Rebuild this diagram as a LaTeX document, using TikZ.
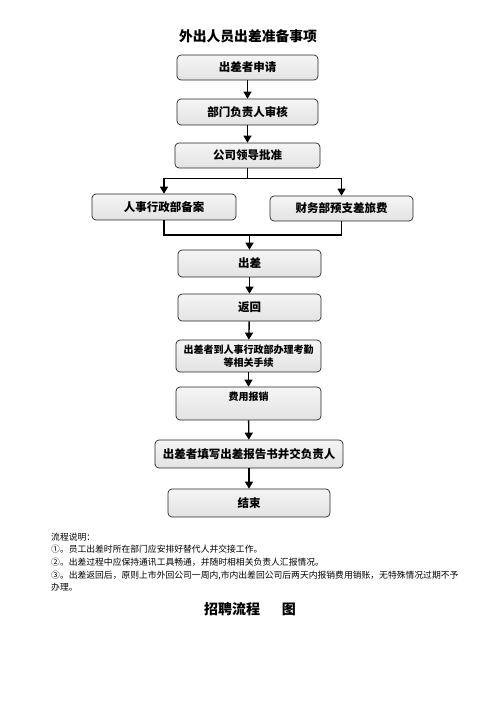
\documentclass[tikz,border=0pt]{standalone}
\usepackage{fontspec}
\newfontfamily\hei{Noto Sans CJK SC}
\usetikzlibrary{arrows.meta}

\begin{document}
\begin{tikzpicture}[x=1pt,y=-1pt,
  box/.style={draw=black!85,line width=.7pt,rounded corners=4pt,
    top color=gray!8,middle color=gray!62,bottom color=gray!22,
    inner sep=0pt,align=center,font=\hei\bfseries\fontsize{11.5}{13}\selectfont},
  smallbox/.style={box,font=\hei\bfseries\fontsize{10}{13}\selectfont},
  arr/.style={line width=1.4pt,-{Triangle[length=7pt,width=8pt]}},
  link/.style={line width=1.4pt}]
  \useasboundingbox (0,0) rectangle (496,702);
  \node[font=\hei\bfseries\fontsize{13.8}{16}\selectfont] (title) at (248,36) {外出人员出差准备事项};
  % main steps
  \node[box,minimum width=141pt,minimum height=25pt] (apply) at (247.5,67.5) {出差者申请};
  \node[box,minimum width=141pt,minimum height=26pt] (check) at (247.5,112) {部门负责人审核};
  \node[box,minimum width=145pt,minimum height=25pt] (approve) at (247.5,155.5) {公司领导批准};
  \node[box,minimum width=144pt,minimum height=26pt] (hr) at (164,207) {人事行政部备案};
  \node[box,minimum width=143pt,minimum height=25pt] (fin) at (341.5,208.5) {财务部预支差旅费};
  \node[box,minimum width=143pt,minimum height=27pt] (trip) at (249.5,263.5) {出差};
  \node[box,minimum width=143pt,minimum height=27pt] (back) at (249.5,307.5) {返回};
  \node[smallbox,minimum width=145pt,minimum height=32pt] (attend) at (248.5,356) {出差者到人事行政部办理考勤\\等相关手续};
  \node[smallbox,minimum width=145pt,minimum height=33pt,text height=8.5pt,text depth=14pt] (cost) at (248.5,403.5) {费用报销};
  \node[box,minimum width=188pt,minimum height=28pt] (report) at (249,454) {出差者填写出差报告书并交负责人};
  \node[box,minimum width=162pt,minimum height=28pt] (done) at (249,503) {结束};
  % connectors
  \draw[arr] (apply) -- (check);
  \draw[arr] (check) -- (approve);
  \draw[arr] (approve.south) -- ++(0,10) -| (hr.north);
  \draw[arr] (approve.south) -- ++(0,10) -| (fin.north);
  \coordinate (join) at (trip.north |- 0,235);
  \draw[link] (hr.south) |- (join) -| (fin.south);
  \draw[arr] (join) -- (trip.north);
  \draw[arr] (trip) -- (back);
  \draw[arr] (back) -- (attend);
  \draw[arr] (attend) -- (cost);
  \draw[arr] (cost) -- (report);
  \draw[arr] (report) -- (done);
  % notes
  \node[anchor=north west,inner sep=0pt,align=left,font=\hei\fontsize{8.8}{12.7}\selectfont] (notes) at (51,532.5)
    {流程说明：\\
     ①。员工出差时所在部门应安排好替代人并交接工作。\\
     ②。出差过程中应保持通讯工具畅通，并随时相相关负责人汇报情况。\\
     ③。出差返回后，原则上市外回公司一周内,市内出差回公司后两天内报销费用销账，无特殊情况过期不予\\
     办理。};
  \node[font=\hei\bfseries\fontsize{14}{16}\selectfont] (footer) at (250,609) {招聘流程\hspace{22pt}图};
\end{tikzpicture}
\end{document}
